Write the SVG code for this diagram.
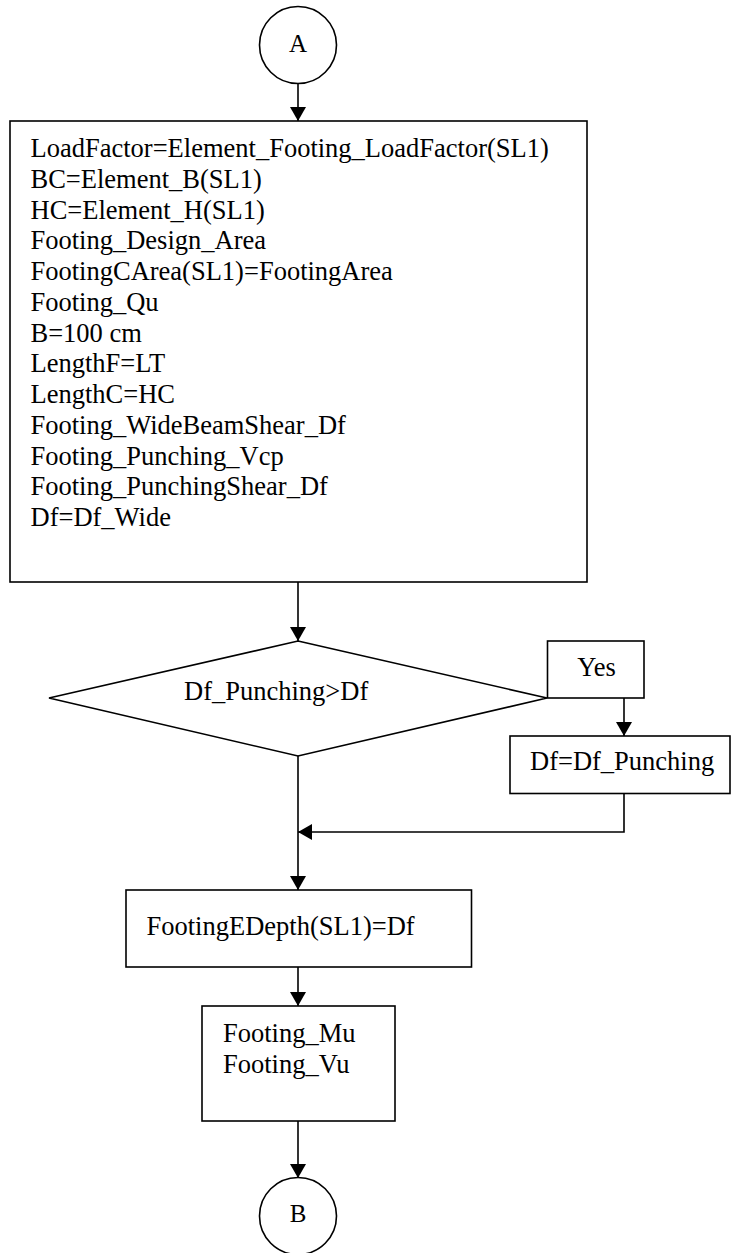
<svg xmlns="http://www.w3.org/2000/svg" width="731" height="1253" viewBox="0 0 731 1253">
<style>
.s{fill:#fff;stroke:#000;stroke-width:1.6}
.t{font-family:"Liberation Serif","Times New Roman",serif;font-size:26.5px;fill:#000}
.c{stroke:#000;stroke-width:1.6;fill:none}
</style>
<defs>
<marker id="ah" markerUnits="userSpaceOnUse" markerWidth="14" markerHeight="16" refX="14" refY="8" orient="auto">
<path d="M0,0 L14,8 L0,16 z" fill="#000"/>
</marker>
</defs>
<rect width="731" height="1253" fill="#fff"/>
<g id="connectors">
<path class="c" d="M298,83.5 L298,121" marker-end="url(#ah)"/>
<path class="c" d="M298,582 L298,641" marker-end="url(#ah)"/>
<path class="c" d="M624,698 L624,736" marker-end="url(#ah)"/>
<path class="c" d="M624,793.5 L624,832 L298,832" marker-end="url(#ah)"/>
<path class="c" d="M298,756 L298,890" marker-end="url(#ah)"/>
<path class="c" d="M298,967 L298,1006" marker-end="url(#ah)"/>
<path class="c" d="M298,1121 L298,1178" marker-end="url(#ah)"/>
</g>
<g id="nodeA">
<circle class="s" cx="298" cy="45" r="38.5"/>
<text class="t" x="298" y="52" text-anchor="middle" style="font-size:25px">A</text>
</g>
<g id="process1">
<rect class="s" x="10" y="121" width="577" height="461"/>
<text class="t">
<tspan x="30.5" y="157">LoadFactor=Element_Footing_LoadFactor(SL1)</tspan>
<tspan x="30.5" y="187.75">BC=Element_B(SL1)</tspan>
<tspan x="30.5" y="218.5">HC=Element_H(SL1)</tspan>
<tspan x="30.5" y="249.25">Footing_Design_Area</tspan>
<tspan x="30.5" y="280">FootingCArea(SL1)=FootingArea</tspan>
<tspan x="30.5" y="310.75">Footing_Qu</tspan>
<tspan x="30.5" y="341.5">B=100 cm</tspan>
<tspan x="30.5" y="372.25">LengthF=LT</tspan>
<tspan x="30.5" y="403">LengthC=HC</tspan>
<tspan x="30.5" y="433.75">Footing_WideBeamShear_Df</tspan>
<tspan x="30.5" y="464.5">Footing_Punching_Vcp</tspan>
<tspan x="30.5" y="495.25">Footing_PunchingShear_Df</tspan>
<tspan x="30.5" y="526">Df=Df_Wide</tspan>
</text>
</g>
<g id="decision">
<polygon class="s" points="298,641 547,698 298,756 49,698"/>
<text class="t" x="184" y="700">Df_Punching&gt;Df</text>
</g>
<g id="yes">
<rect class="s" x="547.5" y="641" width="96.5" height="57"/>
<text class="t" x="596.5" y="676" text-anchor="middle">Yes</text>
</g>
<g id="assign">
<rect class="s" x="510" y="736" width="220" height="57.5"/>
<text class="t" x="530" y="770">Df=Df_Punching</text>
</g>
<g id="depth">
<rect class="s" x="126" y="890" width="345.5" height="77"/>
<text class="t" x="146.5" y="935">FootingEDepth(SL1)=Df</text>
</g>
<g id="forces">
<rect class="s" x="202" y="1006" width="193" height="115"/>
<text class="t">
<tspan x="223" y="1042">Footing_Mu</tspan>
<tspan x="223" y="1072.5">Footing_Vu</tspan>
</text>
</g>
<g id="nodeB">
<circle class="s" cx="298" cy="1216" r="38.5"/>
<text class="t" x="298" y="1222" text-anchor="middle" style="font-size:25px">B</text>
</g>
</svg>
